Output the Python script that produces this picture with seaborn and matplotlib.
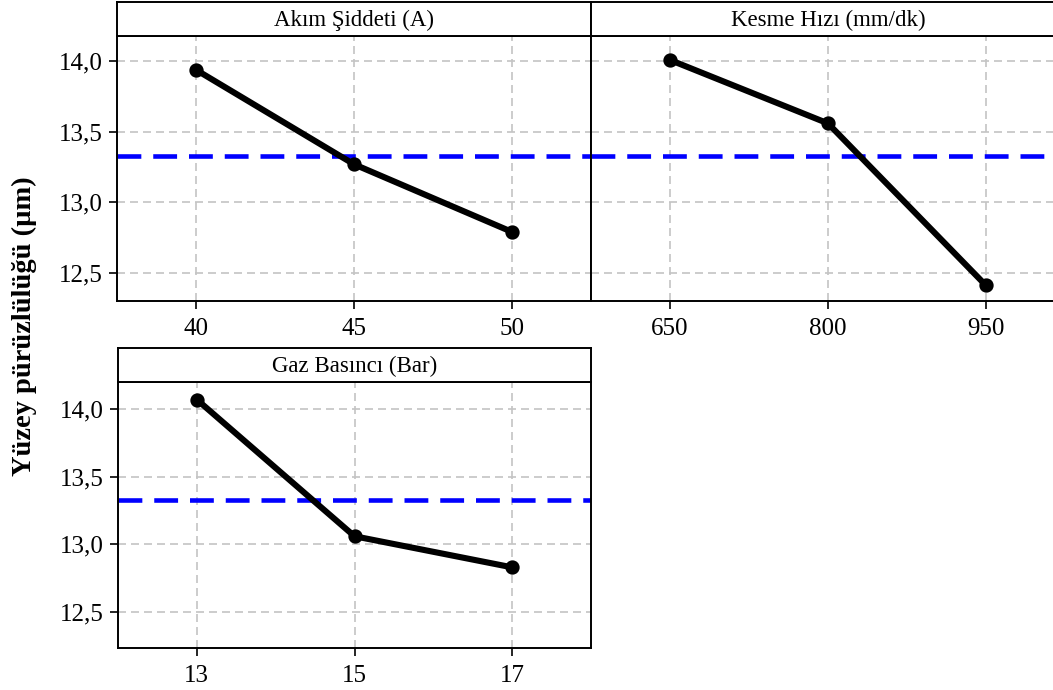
import matplotlib
matplotlib.use("Agg")
import matplotlib.pyplot as plt
import seaborn as sns
from matplotlib.ticker import FuncFormatter

# ---- data ----
akim_levels = ["40", "45", "50"]
akim_means = [13.94, 13.27, 12.79]
kesme_levels = ["650", "800", "950"]
kesme_means = [14.01, 13.56, 12.41]
gaz_levels = ["13", "15", "17"]
gaz_means = [14.07, 13.06, 12.83]
overall_mean = 13.33
panel_titles = ["Akım Şiddeti (A)", "Kesme Hızı (mm/dk)", "Gaz Basıncı (Bar)"]
y_ticks = [12.5, 13.0, 13.5, 14.0]
y_label = "Yüzey pürüzlülüğü (µm)"

sns.set_theme(style="white")
plt.rcParams["font.family"] = ["Liberation Serif", "DejaVu Serif"]

W, H = 1053, 690
fig = plt.figure(figsize=(W / 100, H / 100), dpi=100)


def px_rect(x0, y0, x1, y1):
    return [x0 / W, 1 - y1 / H, (x1 - x0) / W, (y1 - y0) / H]


panels = [
    (akim_levels, akim_means, panel_titles[0], (117, 36, 591, 301), 2, True, (12.30, 14.18)),
    (kesme_levels, kesme_means, panel_titles[1], (591, 36, 1065, 301), 2, False, (12.30, 14.18)),
    (gaz_levels, gaz_means, panel_titles[2], (118, 382, 591, 648), 348, True, (12.234, 14.20)),
]

fmt = FuncFormatter(lambda v, p: f"{v:.1f}".replace(".", ","))

for levels, means, title, (x0, y0, x1, y1), strip_top, show_y, ylim in panels:
    ax = fig.add_axes(px_rect(x0, y0, x1, y1))
    ax.set_axisbelow(True)
    ax.axhline(overall_mean, color="#0000ff", linewidth=3.3, dashes=(5.2, 2.6), zorder=2)
    sns.pointplot(x=levels, y=means, ax=ax, color="black", markers="o",
                  linestyles="-", errorbar=None, linewidth=4.4, markersize=7,
                  zorder=3)
    ax.grid(True, axis="both", which="major", color="#c4c4c4",
            linestyle=(0, (4.8, 3)), linewidth=1.2)
    ax.set_xlim(-0.5, 2.5)
    ax.set_ylim(*ylim)
    ax.set_yticks(y_ticks)
    ax.yaxis.set_major_formatter(fmt)
    ax.set_xlabel("")
    ax.set_ylabel("")
    for s in ax.spines.values():
        s.set_color("black")
        s.set_linewidth(1.4)
    ax.tick_params(axis="x", direction="out", length=6, width=1.2, color="black",
                   labelsize=18, pad=6, bottom=True)
    if show_y:
        ax.tick_params(axis="y", direction="out", length=6, width=1.2, color="black",
                       labelsize=18, pad=4, left=True)
    else:
        ax.tick_params(axis="y", left=False, labelleft=False)
    for lab in ax.get_xticklabels() + ax.get_yticklabels():
        lab.set_color("black")

    sax = fig.add_axes(px_rect(x0, strip_top, x1, y0))
    sax.set_xticks([])
    sax.set_yticks([])
    sax.set_facecolor("white")
    for s in sax.spines.values():
        s.set_color("black")
        s.set_linewidth(1.4)
    cx = 0.5 if x1 <= W else 0.5
    sax.text(cx, 0.45, title, ha="center", va="center", fontsize=16.5,
             color="black", transform=sax.transAxes)

fig.text(24 / W, 1 - 326 / H, y_label, rotation=90, ha="center", va="center",
         fontsize=20.5, fontweight="bold", color="black")

fig.savefig("out.png", dpi=100, facecolor="white")
